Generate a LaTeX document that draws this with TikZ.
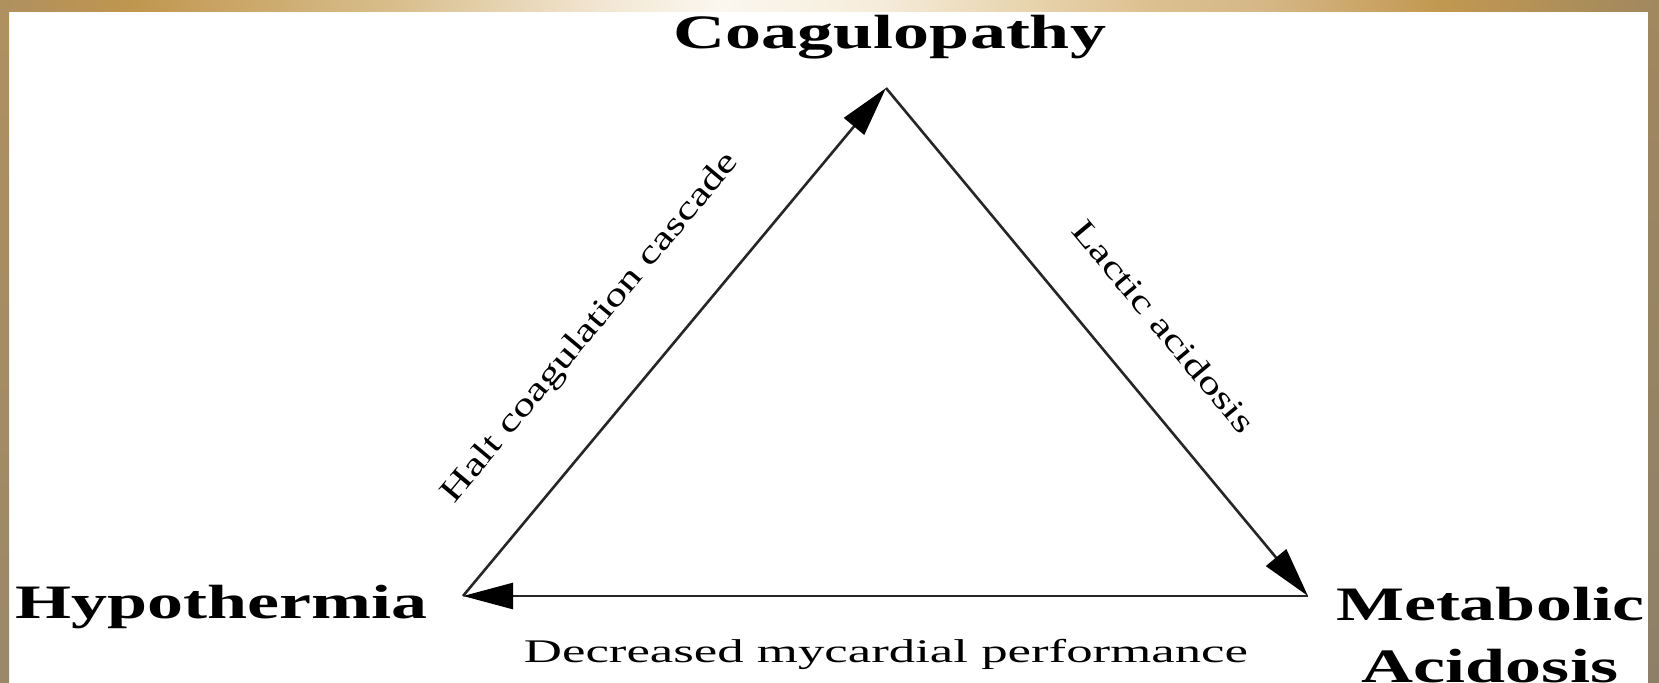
\documentclass[tikz,border=0pt]{standalone}
\usepackage{fontspec}
\setmainfont{Liberation Serif}
\newfontfamily\headfont{Liberation Serif}[FakeStretch=1.5]
\newfontfamily\labfont{Liberation Serif}[FakeStretch=1.35]
\newfontfamily\basefont{Liberation Serif}[FakeStretch=1.6]
\usetikzlibrary{arrows.meta}
\definecolor{bA}{HTML}{AF9060}
\definecolor{bB}{HTML}{C0964E}
\definecolor{bC}{HTML}{D9BF8E}
\definecolor{bD}{HTML}{F2E6D2}
\definecolor{bE}{HTML}{FBF7EF}
\definecolor{bF}{HTML}{F6ECDB}
\definecolor{bG}{HTML}{EAD8B5}
\definecolor{bH}{HTML}{DDC090}
\definecolor{bI}{HTML}{D6B888}
\definecolor{bJ}{HTML}{C29850}
\definecolor{bK}{HTML}{A0885F}
\definecolor{leftTop}{HTML}{B09060}
\definecolor{leftBot}{HTML}{9A8868}
\definecolor{rightBot}{HTML}{8E8068}
\pgfdeclarehorizontalshading{topband}{100bp}{color(0bp)=(bA); color(25bp)=(bA); color(28.92bp)=(bB); color(37.06bp)=(bC); color(43.08bp)=(bD); color(46.7bp)=(bE); color(51.52bp)=(bF); color(55.14bp)=(bG); color(59.66bp)=(bH); color(62.98bp)=(bI); color(68.4bp)=(bJ); color(75bp)=(bK); color(100bp)=(bK)}
\begin{document}
\begin{tikzpicture}[x=0.5pt,y=-0.5pt,
  headtxt/.style={inner sep=0pt, text=black, font=\headfont\bfseries\fontsize{24}{31}\selectfont},
  labtxt/.style={inner sep=0pt, text=black, font=\labfont\fontsize{16.5}{20}\selectfont},
  basetxt/.style={inner sep=0pt, text=black, font=\basefont\fontsize{16.5}{20}\selectfont},
  arr/.style={draw=black!85, line width=1.3pt, -{Triangle[length=25pt,width=13pt,color=black]}}]
\useasboundingbox (0,0) rectangle (1659,682);
\fill[white] (0,0) rectangle (1659,682);
% frame
\shade[shading=topband] (0,0) rectangle (1659,11);
\shade[top color=leftTop, bottom color=leftBot] (0,11) rectangle (9,682);
\shade[top color=bK, bottom color=rightBot] (1648,11) rectangle (1659,682);
% vertices
\coordinate (L) at (463,596);
\coordinate (T) at (886,88);
\coordinate (R) at (1308,596);
% titles
\node[headtxt, anchor=base] (coag) at (890,48) {Coagulopathy};
\node[headtxt, anchor=base west] (hypo) at (15,618) {Hypothermia};
\node[headtxt, anchor=north, align=center] (meta) at (1490,587) {Metabolic\\Acidosis};
% connectors
\draw[arr] (L) -- (T);
\draw[arr] (T) -- (R);
\draw[arr] (R) -- (L);
% labels
\node[labtxt, rotate=50.2] (lblL) at (591,328) {Halt coagulation cascade};
\node[labtxt, rotate=-50.2] (lblR) at (1164,326) {Lactic acidosis};
\node[basetxt, anchor=base] (lblB) at (886,662) {Decreased mycardial performance};
\end{tikzpicture}
\end{document}
